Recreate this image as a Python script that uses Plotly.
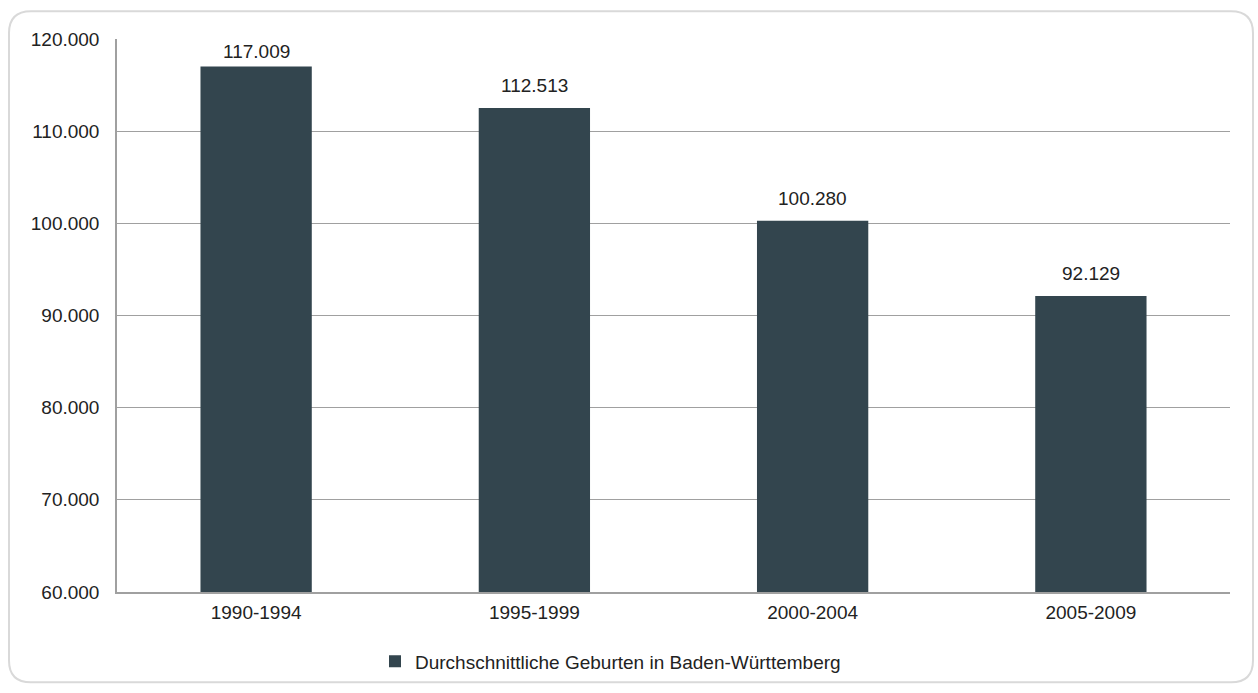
import plotly.graph_objects as go

# Average births in Baden-Württemberg per five-year period
periods = ["1990-1994", "1995-1999", "2000-2004", "2005-2009"]
births = [117009, 112513, 100280, 92129]
series_name = "Durchschnittliche Geburten in Baden-Württemberg"

W, H = 1258, 693
ML, MR, MT, MB = 117, 28, 39, 97
pw, ph = W - ML - MR, H - MT - MB
FONT = "Liberation Sans, Arial, sans-serif"
FS = 19
Y_MIN, Y_MAX = 60000, 120000


def px_to_paper(x, y):
    return (x - ML) / pw, (H - MB - y) / ph


def value_to_px(v):
    return MT + (Y_MAX - v) / (Y_MAX - Y_MIN) * ph


def rounded_rect_path(x0, y0, x1, y1, r):
    def P(x, y):
        px, py = px_to_paper(x, y)
        return f"{px:.5f},{py:.5f}"
    return (
        f"M {P(x0 + r, y0)} L {P(x1 - r, y0)} Q {P(x1, y0)} {P(x1, y0 + r)} "
        f"L {P(x1, y1 - r)} Q {P(x1, y1)} {P(x1 - r, y1)} "
        f"L {P(x0 + r, y1)} Q {P(x0, y1)} {P(x0, y1 - r)} "
        f"L {P(x0, y0 + r)} Q {P(x0, y0)} {P(x0 + r, y0)} Z"
    )


def fmt_de(v):
    return f"{v:,.0f}".replace(",", ".")


fig = go.Figure()
fig.add_trace(go.Bar(
    x=periods,
    y=births,
    name=series_name,
    marker=dict(color="#33454e", line=dict(width=0)),
    showlegend=True,
))

# Value labels above each bar, kept inside the plotting area
annotations = []
for p, v in zip(periods, births):
    top_px = value_to_px(v)
    shift = max(0.0, min(10.0, top_px - 22 - (MT + 3)))
    annotations.append(dict(
        x=p, y=v, xref="x", yref="y",
        text=fmt_de(v), showarrow=False,
        yanchor="bottom", yshift=shift,
        font=dict(size=FS, color="#222222", family=FONT),
    ))

lx, ly = px_to_paper(375, 666)

fig.update_layout(
    width=W, height=H,
    margin=dict(l=ML, r=MR, t=MT, b=MB),
    paper_bgcolor="white",
    plot_bgcolor="white",
    separators=",.",
    bargap=0.6,
    font=dict(family=FONT, size=FS, color="#222222"),
    annotations=annotations,
    xaxis=dict(
        showgrid=False,
        showline=True, linecolor="#a0a0a0", linewidth=1.5,
        ticks="", tickfont=dict(size=FS, color="#222222"),
        ticklabelstandoff=2,
    ),
    yaxis=dict(
        range=[Y_MIN, Y_MAX],
        dtick=10000,
        tickformat=",.0f",
        showgrid=True, gridcolor="#a0a0a0", gridwidth=1,
        showline=True, linecolor="#a0a0a0", linewidth=1.5,
        zeroline=False,
        ticks="", tickfont=dict(size=FS, color="#222222"),
        ticklabelstandoff=12,
    ),
    legend=dict(
        orientation="h",
        x=lx, y=ly, xanchor="left", yanchor="middle",
        font=dict(size=FS, color="#222222"),
        itemwidth=30,
        bgcolor="rgba(0,0,0,0)",
    ),
    shapes=[dict(
        type="path",
        xref="paper", yref="paper",
        path=rounded_rect_path(9, 11, 1253, 687, 22),
        line=dict(color="#d9d9d9", width=2),
        fillcolor="rgba(0,0,0,0)",
        layer="below",
    )],
)

fig.write_html("out.html")
